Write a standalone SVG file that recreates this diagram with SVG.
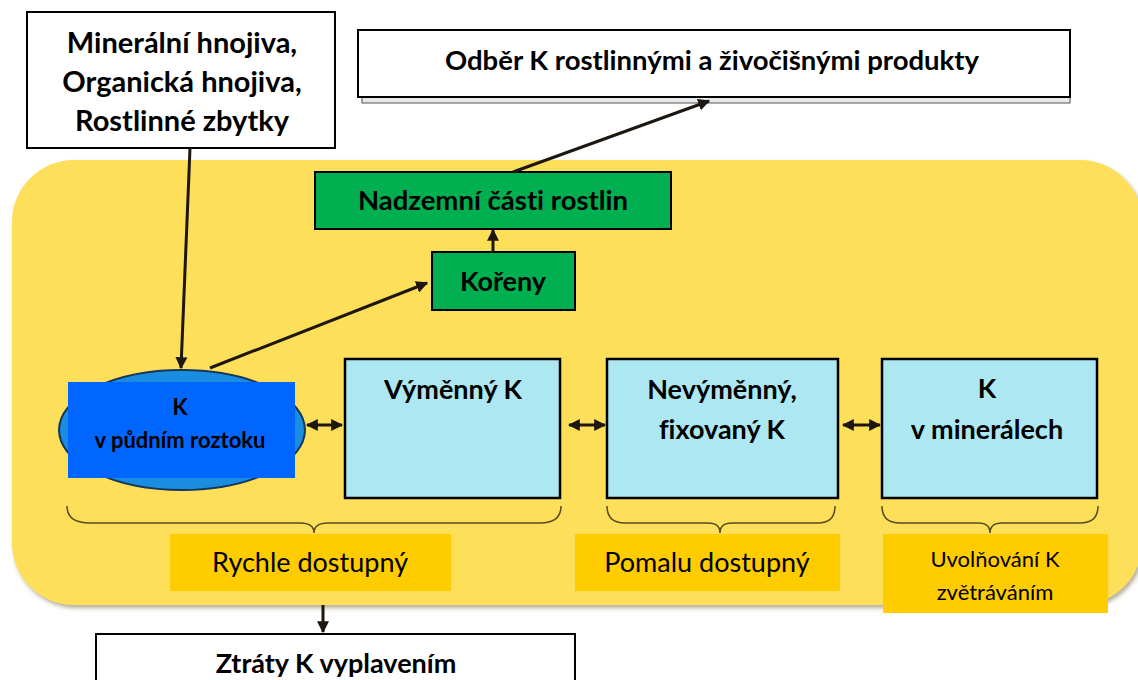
<svg xmlns="http://www.w3.org/2000/svg" width="1138" height="680" viewBox="0 0 1138 680">
<defs>
<marker id="ah" viewBox="0 0 10 10" refX="9" refY="5" markerWidth="4" markerHeight="4" orient="auto-start-reverse" markerUnits="strokeWidth">
<path d="M0,0 L10,5 L0,10 z" fill="#1e1610"/>
</marker>
<filter id="sh" x="-5%" y="-5%" width="115%" height="115%">
<feDropShadow dx="2" dy="3" stdDeviation="2" flood-color="#6b5a2a" flood-opacity="0.5"/>
</filter>
</defs>
<style>
.t{font-family:Lato,"Open Sans","Liberation Sans",sans-serif;fill:#000;text-anchor:middle;font-variant-ligatures:none}
.b{font-weight:bold}
.box{fill:#fff;stroke:#000;stroke-width:2}
.green{fill:#00b050;stroke:#000;stroke-width:2}
.cyan{fill:#ade8f2;stroke:#000;stroke-width:2.5}
.lab{fill:#ffcc00}
.con{stroke:#1e1610;stroke-width:3;fill:none}
.brace{stroke:#5a4a20;stroke-width:1.5;fill:none}
</style>
<rect width="1138" height="680" fill="#fff"/>
<g id="soil">
<rect x="12" y="160" width="1130" height="445" rx="62" fill="#fddf5a" filter="url(#sh)"/>
</g>
<g id="inputs">
<rect class="box" x="27" y="12" width="308" height="136"/>
<text class="t b" x="182" y="53" font-size="29">Minerální hnojiva,</text>
<text class="t b" x="182" y="92" font-size="29">Organická hnojiva,</text>
<text class="t b" x="182" y="131" font-size="29">Rostlinné zbytky</text>
</g>
<g id="odber">
<rect x="362" y="92" width="708" height="11" fill="#e8e8e8" stroke="#555" stroke-width="1"/>
<rect class="box" x="358" y="30" width="712" height="67"/>
<text class="t b" x="712" y="70" font-size="27.5">Odběr K rostlinnými a živočišnými produkty</text>
</g>
<g id="nadzemni">
<rect class="green" x="315" y="172" width="356" height="57"/>
<text class="t b" x="493" y="210" font-size="27.5">Nadzemní části rostlin</text>
</g>
<g id="koreny">
<rect class="green" x="432" y="252" width="143" height="58"/>
<text class="t b" x="503" y="291" font-size="27">Kořeny</text>
</g>
<g id="roztok">
<ellipse cx="182" cy="430" rx="123" ry="60" fill="#1a8de0" stroke="#16365a" stroke-width="2"/>
<rect x="68" y="382" width="227" height="96" fill="#0066ff"/>
<text class="t b" x="180" y="415" font-size="22">K</text>
<text class="t b" x="180" y="448" font-size="22">v půdním roztoku</text>
</g>
<g id="vymenny">
<rect class="cyan" x="345" y="359" width="215" height="139"/>
<text class="t b" x="453" y="399" font-size="27">Výměnný K</text>
</g>
<g id="nevymenny">
<rect class="cyan" x="607" y="359" width="231" height="139"/>
<text class="t b" x="722" y="399" font-size="27">Nevýměnný,</text>
<text class="t b" x="722" y="439" font-size="27">fixovaný K</text>
</g>
<g id="mineraly">
<rect class="cyan" x="882" y="359" width="215" height="139"/>
<text class="t b" x="987" y="398" font-size="27">K</text>
<text class="t b" x="987" y="439" font-size="27">v minerálech</text>
</g>
<g id="braces">
<path class="brace" d="M67,506 Q67,523 90,523 L300,523 Q314,523 314,533 Q314,523 328,523 L540,523 Q561,523 561,506"/>
<path class="brace" d="M607,506 Q607,523 625,523 L708,523 Q720,523 720,533 Q720,523 732,523 L818,523 Q835,523 835,506"/>
<path class="brace" d="M882,506 Q882,523 900,523 L978,523 Q990,523 990,533 Q990,523 1002,523 L1080,523 Q1098,523 1098,506"/>
</g>
<g id="rychle">
<rect class="lab" x="170" y="534" width="281" height="57"/>
<text class="t" x="310" y="572" font-size="27">Rychle dostupný</text>
</g>
<g id="pomalu">
<rect class="lab" x="575" y="534" width="265" height="57"/>
<text class="t" x="707" y="572" font-size="27">Pomalu dostupný</text>
</g>
<g id="uvolnovani">
<rect class="lab" x="883" y="534" width="225" height="79"/>
<text class="t" x="995" y="567" font-size="22">Uvolňování K</text>
<text class="t" x="995" y="600" font-size="22">zvětráváním</text>
</g>
<g id="ztraty">
<rect class="box" x="96" y="634" width="479" height="60"/>
<text class="t b" x="336" y="673" font-size="27">Ztráty K vyplavením</text>
</g>
<g id="connectors">
<line class="con" x1="190" y1="148" x2="181" y2="368" marker-end="url(#ah)"/>
<line class="con" x1="210" y1="368" x2="427" y2="283" marker-end="url(#ah)"/>
<line class="con" x1="493" y1="252" x2="493" y2="230" marker-end="url(#ah)"/>
<line class="con" x1="513" y1="172" x2="709" y2="101" marker-end="url(#ah)"/>
<line class="con" x1="307" y1="425" x2="342" y2="425" marker-start="url(#ah)" marker-end="url(#ah)"/>
<line class="con" x1="569" y1="425" x2="605" y2="425" marker-start="url(#ah)" marker-end="url(#ah)"/>
<line class="con" x1="843" y1="425" x2="880" y2="425" marker-start="url(#ah)" marker-end="url(#ah)"/>
<line class="con" x1="323" y1="605" x2="323" y2="632" marker-end="url(#ah)"/>
</g>
</svg>
